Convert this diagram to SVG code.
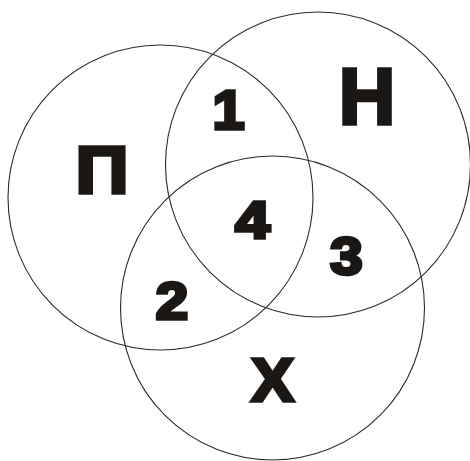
<svg xmlns="http://www.w3.org/2000/svg" width="470" height="461" viewBox="0 0 470 461">
<style>
.c{fill:none;stroke:#2a2a2a;stroke-width:1.1}
.t{font-family:"Liberation Sans",Arial,sans-serif;font-weight:bold;fill:#1b1714;stroke:#1b1714;stroke-width:3.5;stroke-linejoin:miter;text-anchor:middle}
</style>
<rect width="470" height="461" fill="#ffffff"/>
<g id="circles">
<circle id="circle-p" class="c" cx="160.5" cy="197.5" r="152.5"/>
<circle id="circle-n" class="c" cx="318" cy="164.5" r="152.5"/>
<circle id="circle-x" class="c" cx="272.5" cy="308" r="152"/>
</g>
<g id="labels">
<text class="t" transform="translate(102,192.5) scale(1.12,1)" font-size="66">П</text>
<text class="t" transform="translate(367,123.5) scale(0.98,1)" font-size="80">Н</text>
<text class="t" transform="translate(272.5,400.5) scale(1.05,1)" font-size="61">Х</text>
<text class="t" transform="translate(228.5,128.5) scale(1.05,1)" font-size="55">1</text>
<text class="t" transform="translate(252.5,237.5) scale(1.22,1)" font-size="51">4</text>
<text class="t" transform="translate(172,318.5) scale(1.12,1)" font-size="52">2</text>
<text class="t" transform="translate(346.5,273.5) scale(1.12,1)" font-size="52">3</text>
</g>
</svg>
